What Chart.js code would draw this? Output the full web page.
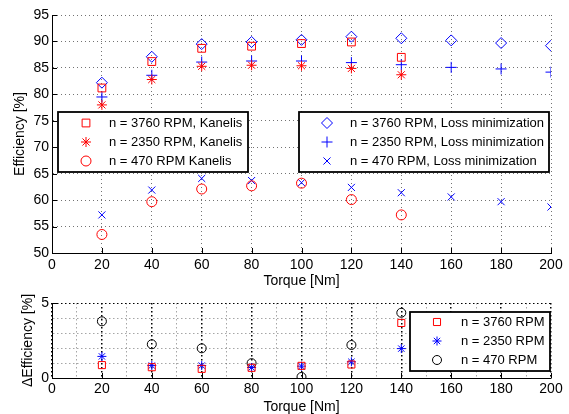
<!DOCTYPE html>
<html>
<head>
<meta charset="utf-8">
<script src="https://cdn.jsdelivr.net/npm/chart.js@4"></script>
<style>
  html, body { margin: 0; padding: 0; background: #fff; overflow: hidden; }
  #wrap { position: relative; width: 569px; height: 414px; overflow: hidden; }
  canvas { position: absolute; left: 0; }
  #top { top: 0; }
  #bottom { top: 285px; }
</style>
</head>
<body>
<div id="wrap">
  <canvas id="bottom" width="569" height="131"></canvas>
  <canvas id="top" width="569" height="290"></canvas>
</div>
<script>
// Torque points [Nm]
const torque = [20, 40, 60, 80, 100, 120, 140, 160, 180, 200];

// Efficiency [%] - Kanelis (measured up to 140 Nm)
const kanelis3760 = [81.2, 86.2, 88.7, 89.1, 89.6, 89.9, 87.0];
const kanelis2350 = [78.0, 82.8, 85.3, 85.5, 85.4, 84.9, 83.7];
const kanelis470 = [53.5, 59.7, 62.1, 62.7, 63.2, 60.1, 57.2];

// Efficiency [%] - Loss minimization
const lossMin3760 = [82.2, 87.1, 89.5, 89.9, 90.3, 90.9, 90.6, 90.2, 89.7, 89.2];
const lossMin2350 = [79.5, 83.6, 86.1, 86.3, 86.3, 86.0, 85.6, 85.1, 84.8, 84.2];
const lossMin470 = [57.2, 61.9, 64.1, 63.7, 63.3, 62.4, 61.4, 60.6, 59.7, 58.7];

// Delta efficiency [%]
const delta3760 = [0.86, 0.72, 0.61, 0.68, 0.81, 0.90, 3.67];
const delta2350 = [1.44, 0.83, 0.83, 0.70, 0.79, 1.08, 1.96];
const delta470 = [3.78, 2.25, 1.98, 0.99, 0.07, 2.20, 4.35];

const RED = '#ff0000';
const BLUE = '#0000ff';
const BLACK = '#000000';
const FONT = 'Liberation Sans, Arial, Helvetica, sans-serif';

function toPoints(values) {
    return values.map((v, i) => ({ x: torque[i], y: v }));
}

function series(label, values, style, color, radius) {
    return {
        label: label,
        data: toPoints(values),
        pointStyle: style,
        pointRadius: radius,
        pointHoverRadius: radius,
        pointBorderColor: color,
        pointBackgroundColor: 'rgba(0,0,0,0)',
        pointBorderWidth: 1,
        showLine: false
    };
}

// draw one marker the same way the datasets do
function drawMarker(ctx, style, color, radius, x, y) {
    ctx.save();
    ctx.strokeStyle = color;
    ctx.lineWidth = 1;
    ctx.beginPath();
    const s = Math.SQRT1_2 * radius;
    switch (style) {
        case 'rect':
            ctx.rect(x - s, y - s, 2 * s, 2 * s);
            break;
        case 'rectRot':
            ctx.moveTo(x - radius, y);
            ctx.lineTo(x, y - radius);
            ctx.lineTo(x + radius, y);
            ctx.lineTo(x, y + radius);
            ctx.closePath();
            break;
        case 'circle':
            ctx.arc(x, y, radius, 0, Math.PI * 2);
            break;
        case 'cross':
            ctx.moveTo(x - radius, y); ctx.lineTo(x + radius, y);
            ctx.moveTo(x, y - radius); ctx.lineTo(x, y + radius);
            break;
        case 'crossRot':
            ctx.moveTo(x - s, y - s); ctx.lineTo(x + s, y + s);
            ctx.moveTo(x - s, y + s); ctx.lineTo(x + s, y - s);
            break;
        case 'star':
            ctx.moveTo(x - radius, y); ctx.lineTo(x + radius, y);
            ctx.moveTo(x, y - radius); ctx.lineTo(x, y + radius);
            ctx.moveTo(x - s, y - s); ctx.lineTo(x + s, y + s);
            ctx.moveTo(x - s, y + s); ctx.lineTo(x + s, y - s);
            break;
    }
    ctx.stroke();
    ctx.restore();
}

// Matlab style: ticks pointing into the plot, legends boxed inside the axes
const matlabAxes = {
    id: 'matlabAxes',
    afterDraw(chart, args, opts) {
        const ctx = chart.ctx;
        const area = chart.chartArea;
        const xs = chart.scales.x;
        const ys = chart.scales.y;
        ctx.save();
        ctx.strokeStyle = BLACK;
        ctx.lineWidth = 1;
        ctx.beginPath();
        xs.ticks.forEach(t => {
            if (opts.xTickEvery && t.value % opts.xTickEvery !== 0) return;
            const px = Math.round(xs.getPixelForValue(t.value)) + 0.5;
            ctx.moveTo(px, area.bottom);
            ctx.lineTo(px, area.bottom - 5);
        });
        ys.ticks.forEach(t => {
            if (opts.yTicks && !opts.yTicks.includes(t.value)) return;
            const py = Math.round(ys.getPixelForValue(t.value)) + 0.5;
            ctx.moveTo(area.left, py);
            ctx.lineTo(area.left + 5, py);
        });
        ctx.stroke();

        (opts.legends || []).forEach(lg => {
            ctx.fillStyle = '#fff';
            ctx.fillRect(lg.x, lg.y, lg.w, lg.h);
            ctx.strokeStyle = BLACK;
            ctx.lineWidth = 1.8;
            ctx.strokeRect(lg.x, lg.y, lg.w, lg.h);
            ctx.font = '13px ' + FONT;
            ctx.textBaseline = 'middle';
            ctx.fillStyle = BLACK;
            lg.items.forEach((it, i) => {
                const cy = lg.y + lg.first + i * lg.step;
                drawMarker(ctx, it.style, it.color, it.radius, lg.x + lg.markerX, cy);
                ctx.fillStyle = BLACK;
                ctx.fillText(it.label, lg.x + lg.textX, cy);
            });
        });
        ctx.restore();
    }
};

const tickFont = { family: FONT, size: 14 };
const dotted = 'rgba(0,0,0,0.55)';

new Chart(document.getElementById('top'), {
    type: 'scatter',
    data: {
        datasets: [
            series('n = 3760 RPM, Kanelis', kanelis3760, 'rect', RED, 5.5),
            series('n = 2350 RPM, Kanelis', kanelis2350, 'star', RED, 5),
            series('n = 470 RPM Kanelis', kanelis470, 'circle', RED, 5),
            series('n = 3760 RPM, Loss minimization', lossMin3760, 'rectRot', BLUE, 5.5),
            series('n = 2350 RPM, Loss minimization', lossMin2350, 'cross', BLUE, 5.5),
            series('n = 470 RPM, Loss minimization', lossMin470, 'crossRot', BLUE, 5)
        ]
    },
    options: {
        responsive: false,
        animation: false,
        layout: { padding: { left: 0, right: 18, top: 15, bottom: 0 } },
        plugins: {
            legend: { display: false },
            tooltip: { enabled: false },
            matlabAxes: {
                legends: [
                    {
                        x: 58, y: 112, w: 190, h: 60, first: 11, step: 19, markerX: 28, textX: 51,
                        items: [
                            { label: 'n = 3760 RPM, Kanelis', style: 'rect', color: RED, radius: 5.5 },
                            { label: 'n = 2350 RPM, Kanelis', style: 'star', color: RED, radius: 5 },
                            { label: 'n = 470 RPM Kanelis', style: 'circle', color: RED, radius: 5 }
                        ]
                    },
                    {
                        x: 299, y: 112, w: 250, h: 60, first: 11, step: 19, markerX: 28, textX: 51,
                        items: [
                            { label: 'n = 3760 RPM, Loss minimization', style: 'rectRot', color: BLUE, radius: 5.5 },
                            { label: 'n = 2350 RPM, Loss minimization', style: 'cross', color: BLUE, radius: 5.5 },
                            { label: 'n = 470 RPM, Loss minimization', style: 'crossRot', color: BLUE, radius: 5 }
                        ]
                    }
                ]
            }
        },
        scales: {
            x: {
                type: 'linear',
                min: 0,
                max: 200,
                afterFit: scale => { scale.height = 37; },
                ticks: { stepSize: 20, color: BLACK, font: tickFont, padding: 4, maxRotation: 0 },
                grid: { color: dotted, drawTicks: false },
                border: { color: BLACK, width: 1, dash: [1, 3] },
                title: { display: true, text: 'Torque [Nm]', color: BLACK, font: tickFont, padding: { top: 0, bottom: 0 } }
            },
            y: {
                min: 50,
                max: 95,
                afterFit: scale => { scale.width = 52; },
                ticks: { stepSize: 5, color: BLACK, font: tickFont, padding: 3 },
                grid: { color: dotted, drawTicks: false },
                border: { color: BLACK, width: 1, dash: [1, 3] },
                title: { display: true, text: 'Efficiency [%]', color: BLACK, font: tickFont, padding: { top: 12, bottom: 0 } }
            }
        }
    },
    plugins: [matlabAxes]
});

new Chart(document.getElementById('bottom'), {
    type: 'scatter',
    data: {
        datasets: [
            series('n = 3760 RPM', delta3760, 'rect', RED, 5),
            series('n = 2350 RPM', delta2350, 'star', BLUE, 4.5),
            series('n = 470 RPM', delta470, 'circle', BLACK, 4.5)
        ]
    },
    options: {
        responsive: false,
        animation: false,
        layout: { padding: { left: 0, right: 18, top: 18, bottom: 0 } },
        plugins: {
            legend: { display: false },
            tooltip: { enabled: false },
            matlabAxes: {
                xTickEvery: 20,
                yTicks: [0, 5],
                legends: [
                    {
                        x: 410, y: 27, w: 140, h: 59, first: 10, step: 19, markerX: 27, textX: 51,
                        items: [
                            { label: 'n = 3760 RPM', style: 'rect', color: RED, radius: 5 },
                            { label: 'n = 2350 RPM', style: 'star', color: BLUE, radius: 4.5 },
                            { label: 'n = 470 RPM', style: 'circle', color: BLACK, radius: 4.5 }
                        ]
                    }
                ]
            }
        },
        scales: {
            x: {
                type: 'linear',
                min: 0,
                max: 200,
                afterFit: scale => { scale.height = 38; },
                ticks: {
                    stepSize: 10, color: BLACK, font: tickFont, padding: 3, maxRotation: 0, autoSkip: false,
                    callback: v => (v % 20 === 0 ? v : '')
                },
                grid: {
                    drawTicks: false,
                    color: c => (c.tick.value % 20 === 0 ? BLACK : 'rgba(0,0,0,0.35)'),
                    lineWidth: c => (c.tick.value % 20 === 0 ? 1.5 : 1)
                },
                border: { color: BLACK, width: 1, dash: [1.5, 2.5] },
                title: { display: true, text: 'Torque [Nm]', color: BLACK, font: tickFont, padding: { top: 0, bottom: 0 } }
            },
            y: {
                min: 0,
                max: 5,
                afterFit: scale => { scale.width = 52; },
                ticks: {
                    stepSize: 1, color: BLACK, font: tickFont, padding: 3, autoSkip: false,
                    callback: v => (v === 0 || v === 5 ? v : '')
                },
                grid: {
                    drawTicks: false,
                    color: c => (c.tick.value === 5 ? BLACK : 'rgba(0,0,0,0.35)')
                },
                border: { color: BLACK, width: 1, dash: [1.5, 2.5] },
                title: { display: true, text: 'ΔEfficiency [%]', color: BLACK, font: tickFont, padding: { top: 20, bottom: 0 } }
            }
        }
    },
    plugins: [matlabAxes]
});
</script>
</body>
</html>
